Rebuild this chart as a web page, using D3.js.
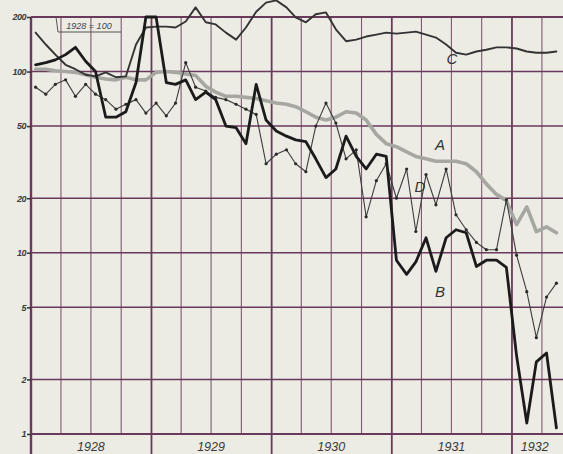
<!DOCTYPE html>
<html><head><meta charset="utf-8">
<script src="https://cdn.jsdelivr.net/npm/d3@7"></script>
<style>html,body{margin:0;padding:0;background:#ecebe4;overflow:hidden}svg{display:block}</style>
</head><body><svg id="c" width="563" height="454"></svg>
<script>
// monthly categories Jan 1928 .. May 1932 (index numbers, 1928 = 100)
const months = d3.timeMonth.range(new Date(1928,0,1), new Date(1932,5,1)).map(d => new Date(d.getFullYear(), d.getMonth(), 15));
const seriesA = [103,103,101,100,99,96,93,91,90,93,90,90,
                 99,100,99,97,95,83,77,73,73,72,71,69,
                 67,66,64,60,56,54,56,60,59,54,45,40,
                 38.5,36,34,33,32,32,32,31,28,24,21,19.4,
                 14.3,17.9,13.1,13.9,12.9];
const seriesB = [109,112,116,124,136,114,100,56,56,60,87,200,
                 200,87,85,90,70,77,70,50,49,40,85,54,
                 47,44,42,41,33,26,29,44,34,29,35,34,
                 9.1,7.6,8.9,12.1,7.9,12.1,13.4,12.9,8.4,9.1,9.1,8.3,
                 2.7,1.15,2.5,2.8,1.08];
const seriesC = [164,141,124,109,103,96,94,99,93,94,141,175,
                 177,177,175,189,226,187,182,164,150,175,214,240,
                 247,226,199,187,207,212,171,147,150,156,160,164,
                 162,164,166,160,154,141,127,124,129,132,136,136,
                 134,129,127,127,129];
const seriesD = [82,75,85,90,73,85,75,70,62,66,70,59,
                 67,57,67,112,82,78,72,70,66,62,58,31,
                 35,37,31,28,50,67,52,33,37,15.8,25,31,
                 20,29,13.1,27,18.4,29,16.2,13.4,11.4,10.4,10.4,19.6,
                 9.7,6.1,3.4,5.7,6.8];
const yTicks = [1,2,5,10,20,50,100,200];
const yearLabels = [["1928",new Date(1928,6,1)],["1929",new Date(1929,6,1)],["1930",new Date(1930,6,1)],["1931",new Date(1931,6,1)],["1932",new Date(1932,2,10)]];
const seriesLabels = [["A",seriesA,"A"],["B",seriesB,"B"],["C",seriesC,"C"],["D",seriesD,"D"]];

const svg = d3.select("#c");
const W = 563, H = 454;
const x = d3.scaleTime().domain([new Date(1928,0,1), new Date(1932,5,4)]).range([31, 563]);
const y = d3.scaleLog().domain([1, 200]).range([434, 17]);

svg.append("rect").attr("width", W).attr("height", H).attr("fill", "#ecebe4");

const grid = svg.append("g");
const gridCol = "#6a3a5c";
// quarter lines
const quarters = d3.timeMonth.every(3).range(new Date(1928,0,1), new Date(1932,6,1));
grid.selectAll("line.q").data(quarters.filter(d => d.getMonth() !== 0)).join("line")
  .attr("x1", d => x(d)).attr("x2", d => x(d)).attr("y1", y(200)).attr("y2", y(1))
  .attr("stroke", "#7d5a72").attr("stroke-width", 1.1);
// horizontal lines
grid.selectAll("line.h").data(yTicks).join("line")
  .attr("x1", 31).attr("x2", W).attr("y1", d => y(d)).attr("y2", d => y(d))
  .attr("stroke", gridCol).attr("stroke-width", d => (d === 1 || d === 200) ? 2 : 1.5);
// year lines
const years = d3.timeYear.range(new Date(1928,0,1), new Date(1932,6,1));
grid.selectAll("line.y").data(years).join("line")
  .attr("x1", d => x(d)).attr("x2", d => x(d)).attr("y1", y(200)).attr("y2", H)
  .attr("stroke", gridCol).attr("stroke-width", d => d.getFullYear() === 1928 ? 2.4 : 1.8);

// y axis labels
const ax = svg.append("g").attr("transform", "translate(31,0)")
  .call(d3.axisLeft(y).tickValues(yTicks).tickFormat(d3.format("d")).tickSize(4).tickPadding(1));
ax.select(".domain").remove();
ax.selectAll("line").attr("stroke", "#333").attr("stroke-width", 1.5);
ax.selectAll("text").attr("font-family", "Liberation Sans, Arial, sans-serif").attr("font-size", 9)
  .attr("font-weight", "bold").attr("font-style", "italic").attr("fill", "#3a3a3a").attr("letter-spacing", -0.5);

// year labels
svg.selectAll("text.yr").data(yearLabels).join("text")
  .attr("x", d => x(d[1])).attr("y", 451).attr("text-anchor", "middle")
  .attr("font-family", "Liberation Sans, Arial, sans-serif").attr("font-size", 12.5)
  .attr("font-style", "italic").attr("fill", "#3a3a3a").text(d => d[0]);

// base box "1928 = 100"
const bx = svg.append("g");
bx.append("path").attr("d", `M56,${y(200)} L58,32 L121,32`).attr("fill", "none").attr("stroke", "#555").attr("stroke-width", 1);
bx.append("text").attr("x", 89).attr("y", 29).attr("text-anchor", "middle")
  .attr("font-family", "Liberation Sans, Arial, sans-serif").attr("font-size", 9).attr("font-style", "italic")
  .attr("fill", "#444").text("1928 = 100");

const line = d3.line().x((d, i) => x(months[i])).y(d => y(d));
const mk = (data, col, w) => svg.append("path").datum(data).attr("d", line)
  .attr("fill", "none").attr("stroke", col).attr("stroke-width", w)
  .attr("stroke-linejoin", "round").attr("stroke-linecap", "round");

mk(seriesA, "#a7a7a2", 3.6);
mk(seriesC, "#333", 1.9);
mk(seriesD, "#3c3c3c", 1.1);
svg.selectAll("circle.d").data(seriesD).join("circle")
  .attr("cx", (d, i) => x(months[i])).attr("cy", d => y(d)).attr("r", 1.6).attr("fill", "#2a2a2a");
mk(seriesB, "#1b1b1b", 2.8);

// series letters
const letterPos = {A: [440, 150], B: [440, 297], C: [452, 64], D: [420, 192]};
svg.selectAll("text.s").data(seriesLabels).join("text")
  .attr("x", d => letterPos[d[0]][0]).attr("y", d => letterPos[d[0]][1]).attr("text-anchor", "middle")
  .attr("font-family", "Liberation Sans, Arial, sans-serif").attr("font-size", 15)
  .attr("font-style", "italic").attr("fill", "#333").text(d => d[2]);
</script></body></html>
